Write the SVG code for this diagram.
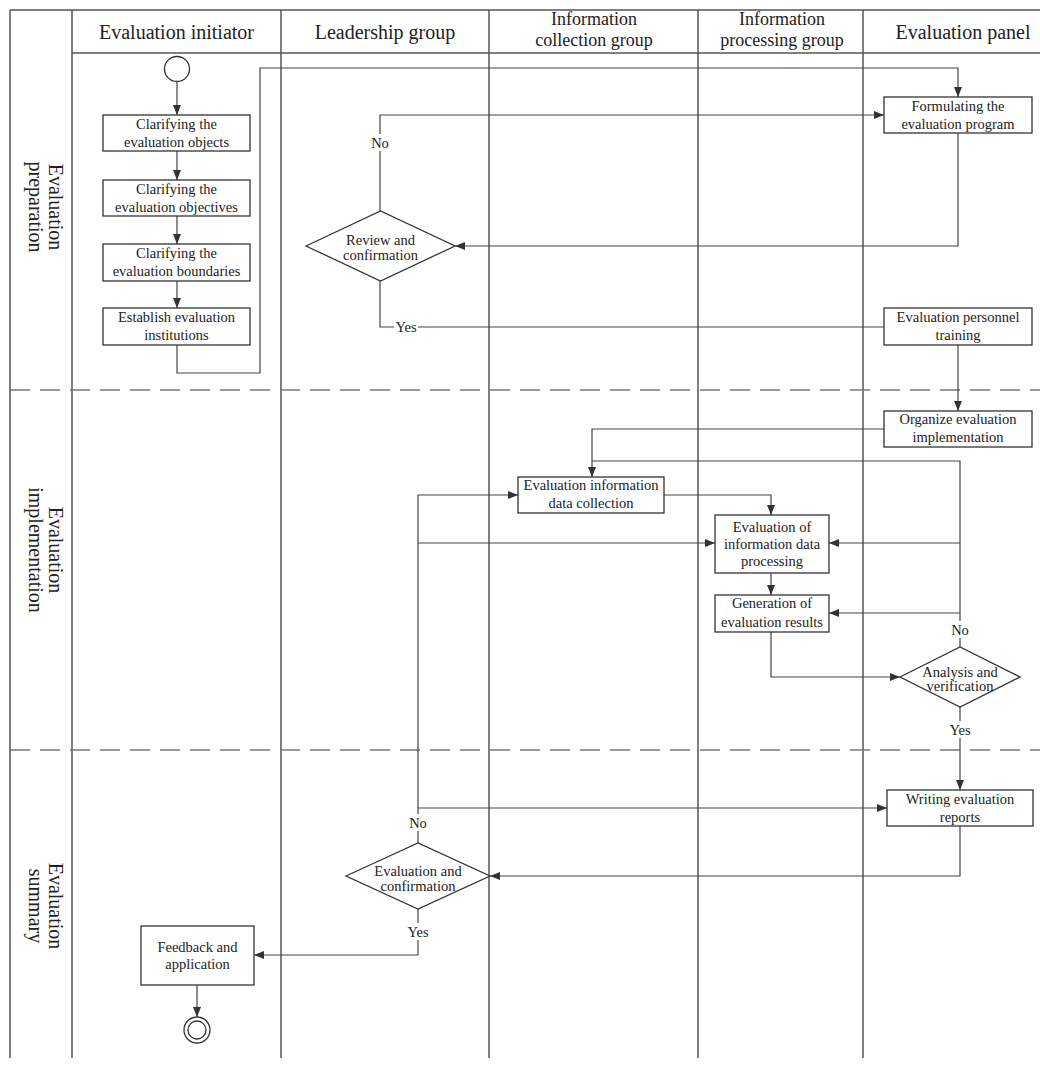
<svg xmlns="http://www.w3.org/2000/svg" width="1040" height="1068" viewBox="0 0 1040 1068">
<style>
  text { font-family: "Liberation Serif", "Times New Roman", serif; fill: #222; }
  .hdr { font-size: 20px; text-anchor: middle; }
  .hdr2 { font-size: 18px; text-anchor: middle; }
  .row { font-size: 20px; text-anchor: middle; }
  .nt { font-size: 14.5px; text-anchor: middle; }
  .lbl { font-size: 14.5px; text-anchor: middle; }
  .grid { stroke: #555; stroke-width: 1.5; fill: none; }
  .dash { stroke: #777; stroke-width: 1.5; stroke-dasharray: 20 10; fill: none; }
  .box { fill: #fff; stroke: #333; stroke-width: 1.3; }
  .conn { fill: none; stroke: #444; stroke-width: 1.2; }
  .arr { marker-end: url(#ah); }
  .bg { fill: #fff; stroke: none; }
</style>
<defs>
  <marker id="ah" viewBox="0 0 10 8" refX="10" refY="4" markerWidth="10" markerHeight="8" markerUnits="userSpaceOnUse" orient="auto">
    <path d="M0,0 L10,4 L0,8 z" fill="#333"/>
  </marker>
</defs>
<rect x="0" y="0" width="1040" height="1068" fill="#fff"/>

<g id="table">
  <line class="grid" x1="10" y1="10" x2="1040" y2="10"/>
  <line class="grid" x1="72" y1="53" x2="1040" y2="53"/>
  <line class="grid" x1="10" y1="10" x2="10" y2="1058"/>
  <line class="grid" x1="72" y1="10" x2="72" y2="1058"/>
  <line class="grid" x1="281" y1="10" x2="281" y2="1058"/>
  <line class="grid" x1="489" y1="10" x2="489" y2="1058"/>
  <line class="grid" x1="698" y1="10" x2="698" y2="1058"/>
  <line class="grid" x1="863" y1="10" x2="863" y2="1058"/>
  <line class="dash" x1="10" y1="390" x2="1040" y2="390"/>
  <line class="dash" x1="10" y1="750" x2="1040" y2="750"/>
  <text class="hdr" x="176.5" y="39">Evaluation initiator</text>
  <text class="hdr" x="385" y="39">Leadership group</text>
  <text class="hdr2" x="594" y="25">Information</text>
  <text class="hdr2" x="594" y="46">collection group</text>
  <text class="hdr2" x="782" y="25">Information</text>
  <text class="hdr2" x="782" y="46">processing group</text>
  <text class="hdr" x="963" y="39">Evaluation panel</text>
  <text class="row" transform="translate(40,207) rotate(90)"><tspan x="0" y="-9">Evaluation</tspan><tspan x="0" y="11">preparation</tspan></text>
  <text class="row" transform="translate(40,550) rotate(90)"><tspan x="0" y="-9">Evaluation</tspan><tspan x="0" y="11">implementation</tspan></text>
  <text class="row" transform="translate(40,906) rotate(90)"><tspan x="0" y="-9">Evaluation</tspan><tspan x="0" y="11">summary</tspan></text>
</g>

<g id="connectors">
  <path class="conn arr" d="M177,81.5 V115"/>
  <path class="conn arr" d="M177,151 V180"/>
  <path class="conn arr" d="M177,216 V244"/>
  <path class="conn arr" d="M177,281 V308"/>
  <path class="conn arr" d="M177,345 V373 H260 V68 H958 V97"/>
  <path class="conn arr" d="M958,133 V246 H455"/>
  <path class="conn arr" d="M380,211 V115 H884"/>
  <path class="conn" d="M380,281 V327 H884"/>
  <path class="conn arr" d="M958,345 V411"/>
  <path class="conn arr" d="M884,429 H592 V477"/>
  <path class="conn arr" d="M664,495 H771 V515"/>
  <path class="conn arr" d="M771,573 V595"/>
  <path class="conn arr" d="M771,632 V677 H900"/>
  <path class="conn" d="M960,647 V461 H592"/>
  <path class="conn arr" d="M960,543 H829"/>
  <path class="conn arr" d="M960,613 H829"/>
  <path class="conn arr" d="M960,707 V790"/>
  <path class="conn arr" d="M960,826 V876 H490"/>
  <path class="conn arr" d="M418,843 V808 H887"/>
  <path class="conn arr" d="M418,808 V495 H518"/>
  <path class="conn arr" d="M418,543 H715"/>
  <path class="conn arr" d="M418,909 V955 H254"/>
  <path class="conn arr" d="M197,985 V1017"/>
  <rect class="bg" x="370" y="134" width="20" height="17"/>
  <text class="lbl" x="380" y="148">No</text>
  <rect class="bg" x="394" y="319" width="24" height="16"/>
  <text class="lbl" x="406" y="332">Yes</text>
  <rect class="bg" x="950" y="621" width="20" height="17"/>
  <text class="lbl" x="960" y="635">No</text>
  <rect class="bg" x="948" y="721" width="24" height="17"/>
  <text class="lbl" x="960" y="735">Yes</text>
  <rect class="bg" x="408" y="814" width="20" height="17"/>
  <text class="lbl" x="418" y="828">No</text>
  <rect class="bg" x="406" y="923" width="24" height="17"/>
  <text class="lbl" x="418" y="937">Yes</text>
</g>

<g id="start"><circle cx="177" cy="69" r="12.5" fill="#fff" stroke="#333" stroke-width="1.3"/></g>
<g id="n1"><rect class="box" x="103" y="115" width="147" height="36"/><text class="nt" x="176.5" y="129">Clarifying the<tspan x="176.5" y="147">evaluation objects</tspan></text></g>
<g id="n2"><rect class="box" x="103" y="180" width="147" height="36"/><text class="nt" x="176.5" y="194">Clarifying the<tspan x="176.5" y="212">evaluation objectives</tspan></text></g>
<g id="n3"><rect class="box" x="103" y="244" width="147" height="37"/><text class="nt" x="176.5" y="258">Clarifying the<tspan x="176.5" y="276">evaluation boundaries</tspan></text></g>
<g id="n4"><rect class="box" x="103" y="308" width="147" height="37"/><text class="nt" x="176.5" y="322">Establish evaluation<tspan x="176.5" y="340">institutions</tspan></text></g>
<g id="n5"><rect class="box" x="884" y="97" width="148" height="36"/><text class="nt" x="958" y="111">Formulating the<tspan x="958" y="129">evaluation program</tspan></text></g>
<g id="n6"><polygon class="box" points="306,246 380.5,211 455,246 380.5,281"/><text class="nt" x="380.5" y="245">Review and<tspan x="380.5" y="260">confirmation</tspan></text></g>
<g id="n7"><rect class="box" x="884" y="308" width="148" height="37"/><text class="nt" x="958" y="322">Evaluation personnel<tspan x="958" y="340">training</tspan></text></g>
<g id="n8"><rect class="box" x="884" y="411" width="148" height="36"/><text class="nt" x="958" y="424">Organize evaluation<tspan x="958" y="442">implementation</tspan></text></g>
<g id="n9"><rect class="box" x="518" y="477" width="146" height="36"/><text class="nt" x="591" y="490">Evaluation information<tspan x="591" y="508">data collection</tspan></text></g>
<g id="n10"><rect class="box" x="715" y="515" width="114" height="58"/><text class="nt" x="772" y="532">Evaluation of<tspan x="772" y="549">information data</tspan><tspan x="772" y="566">processing</tspan></text></g>
<g id="n11"><rect class="box" x="715" y="595" width="114" height="37"/><text class="nt" x="772" y="608">Generation of<tspan x="772" y="627">evaluation results</tspan></text></g>
<g id="n12"><polygon class="box" points="900,677 960,647 1020,677 960,707"/><text class="nt" x="960" y="677">Analysis and<tspan x="960" y="691">verification</tspan></text></g>
<g id="n13"><rect class="box" x="887" y="790" width="146" height="36"/><text class="nt" x="960" y="804">Writing evaluation<tspan x="960" y="822">reports</tspan></text></g>
<g id="n14"><polygon class="box" points="346,876 418,843 490,876 418,909"/><text class="nt" x="418" y="876">Evaluation and<tspan x="418" y="891">confirmation</tspan></text></g>
<g id="n15"><rect class="box" x="141" y="926" width="113" height="59"/><text class="nt" x="197.5" y="952">Feedback and<tspan x="197.5" y="969">application</tspan></text></g>
<g id="end"><circle cx="197" cy="1030" r="13" fill="#fff" stroke="#333" stroke-width="1.3"/><circle cx="197" cy="1030" r="9" fill="#fff" stroke="#333" stroke-width="1.3"/></g>
</svg>
